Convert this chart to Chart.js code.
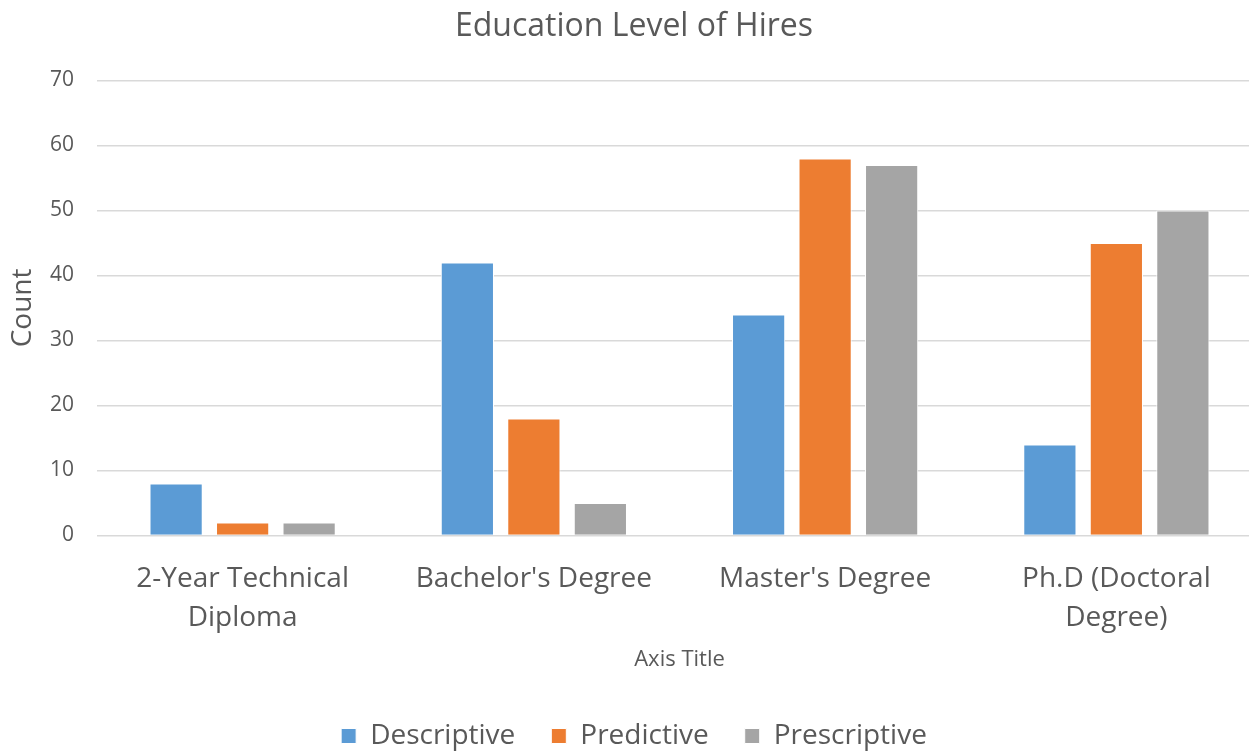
<!DOCTYPE html>
<html>
<head>
<meta charset="utf-8">
<script src="https://cdn.jsdelivr.net/npm/chart.js@4/dist/chart.umd.min.js"></script>
<style>
  html, body { margin: 0; padding: 0; background: #fff; overflow: hidden; }
  #wrap { width: 1262px; height: 760px; position: relative; }
</style>
</head>
<body>
<div id="wrap"><canvas id="myChart"></canvas></div>
<script>
// chart data
const categories = [
    ['2-Year Technical', 'Diploma'],
    "Bachelor's Degree",
    "Master's Degree",
    ['Ph.D (Doctoral', 'Degree)']
];
const descriptive = [8, 42, 34, 14];
const predictive = [2, 18, 58, 45];
const prescriptive = [2, 5, 57, 50];
const yTicks = [0, 10, 20, 30, 40, 50, 60, 70];

const fontFamily = "'Open Sans', 'Noto Sans', sans-serif";
const textColor = '#595959';

Chart.defaults.font.family = fontFamily;
Chart.defaults.color = textColor;

const ctx = document.getElementById('myChart').getContext('2d');

function makeSet(label, data, color) {
    return {
        label: label,
        data: data,
        backgroundColor: color,
        borderColor: '#ffffff',
        borderWidth: 1,
        barPercentage: 0.8,
        categoryPercentage: 0.685
    };
}

window.myChart = new Chart(ctx, {
    type: 'bar',
    data: {
        labels: categories,
        datasets: [
            makeSet('Descriptive', descriptive, '#5B9BD5'),
            makeSet('Predictive', predictive, '#ED7D31'),
            makeSet('Prescriptive', prescriptive, '#A5A5A5')
        ]
    },
    options: {
        responsive: true,
        maintainAspectRatio: false,
        animation: false,
        layout: { padding: { top: 0, right: 0, bottom: 0, left: 6 } },
        plugins: {
            title: {
                display: true,
                text: 'Education Level of Hires',
                font: { size: 32, weight: 'normal' },
                color: textColor,
                padding: { top: 8, bottom: 34 }
            },
            legend: {
                position: 'bottom',
                labels: {
                    boxWidth: 15,
                    boxHeight: 15,
                    padding: 36,
                    font: { size: 28 },
                    color: textColor
                }
            },
            tooltip: { enabled: false }
        },
        scales: {
            x: {
                grid: { display: false },
                border: { color: '#d9d9d9', width: 1 },
                ticks: {
                    font: { size: 28, lineHeight: 1.36 },
                    color: textColor,
                    maxRotation: 0,
                    padding: 17
                },
                title: {
                    display: true,
                    text: 'Axis Title',
                    font: { size: 22 },
                    color: textColor,
                    padding: { top: -7, bottom: 13 }
                }
            },
            y: {
                min: 0,
                max: 70,
                afterBuildTicks: axis => {
                    axis.ticks = yTicks.map(v => ({ value: v }));
                },
                afterFit: axis => {
                    axis.width = 91;
                },
                grid: { color: '#d9d9d9', lineWidth: 1.5, drawTicks: false },
                border: { display: false },
                ticks: {
                    font: { size: 21 },
                    color: textColor,
                    padding: 23
                },
                title: {
                    display: true,
                    text: 'Count',
                    font: { size: 28 },
                    color: textColor,
                    padding: { top: 0, bottom: 8 }
                }
            }
        }
    }
});
</script>
</body>
</html>
